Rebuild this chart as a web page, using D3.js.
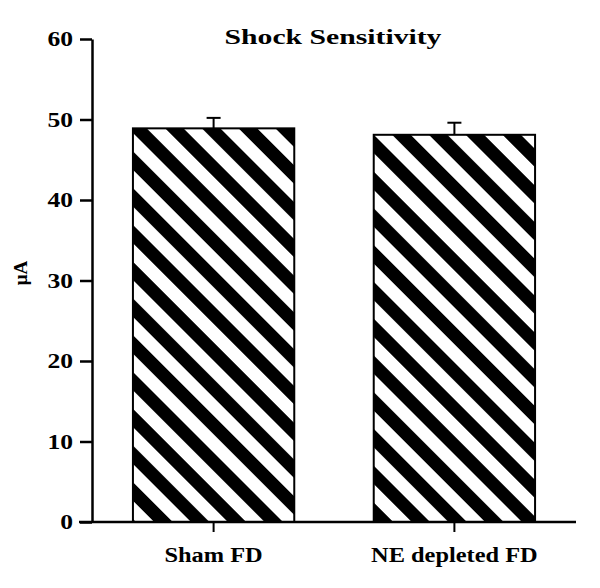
<!DOCTYPE html>
<html>
<head>
<meta charset="utf-8">
<script src="https://cdn.jsdelivr.net/npm/d3@7"></script>
<style>
  body { margin: 0; background: #fff; }
  svg text { font-family: "Liberation Serif", "Times New Roman", serif; font-weight: bold; fill: #000; }
</style>
</head>
<body>
<div id="chart"></div>
<script>
var categories = ["Sham FD", "NE depleted FD"];
var means = [48.9, 48.1];
var errors = [1.3, 1.5];
var yTicks = [0, 10, 20, 30, 40, 50, 60];

var width = 600, height = 588,
    axisLeft = 92, axisRight = 576, axisBottom = 522, axisTop = 39,
    stretch = 1.22;   // the original type is set wide

var svg = d3.select("#chart")
    .append("svg")
    .attr("width", width)
    .attr("height", height);

// diagonal hatch, black / white
var pattern = svg.append("defs")
    .append("pattern")
    .attr("id", "hatch")
    .attr("patternUnits", "userSpaceOnUse")
    .attr("width", 26)
    .attr("height", 26)
    .attr("patternTransform", "rotate(-45)");
pattern.append("rect")
    .attr("width", 26).attr("height", 26)
    .attr("fill", "#fff");
pattern.append("rect")
    .attr("width", 13).attr("height", 26)
    .attr("fill", "#000");

var x = d3.scaleBand()
    .domain(categories)
    .range([axisLeft, axisRight])
    .paddingInner(0.33)
    .paddingOuter(0.17);

var y = d3.scaleLinear()
    .domain([0, 60])
    .range([axisBottom, axisTop]);

// error bars (upper only)
var errG = svg.append("g");
categories.forEach(function(c, i) {
    var cx = x(c) + x.bandwidth() / 2;
    errG.append("line")
        .attr("x1", cx).attr("x2", cx)
        .attr("y1", y(means[i])).attr("y2", y(means[i] + errors[i]))
        .attr("stroke", "#000").attr("stroke-width", 2);
    errG.append("line")
        .attr("x1", cx - 7).attr("x2", cx + 7)
        .attr("y1", y(means[i] + errors[i])).attr("y2", y(means[i] + errors[i]))
        .attr("stroke", "#000").attr("stroke-width", 2);
});

svg.selectAll(".bar")
    .data(categories)
    .enter()
    .append("rect")
    .attr("class", "bar")
    .attr("x", function(d) { return x(d); })
    .attr("y", function(d, i) { return y(means[i]); })
    .attr("width", x.bandwidth())
    .attr("height", function(d, i) { return y(0) - y(means[i]); })
    .attr("fill", "url(#hatch)")
    .attr("stroke", "#000")
    .attr("stroke-width", 2);

// y axis
var yAxis = svg.append("g")
    .attr("transform", "translate(" + axisLeft + ",0)")
    .call(d3.axisLeft(y).tickValues(yTicks).tickSize(12).tickPadding(7).tickSizeOuter(0));
yAxis.select(".domain").attr("stroke-width", 2.5);
yAxis.selectAll(".tick line").attr("stroke-width", 2.5);
yAxis.selectAll(".tick text")
    .style("font-size", "21px")
    .attr("x", -19 / stretch)
    .attr("transform", "scale(" + stretch + ",1)");

// x axis
var xAxis = svg.append("g")
    .attr("transform", "translate(0," + axisBottom + ")")
    .call(d3.axisBottom(x).tickSize(10).tickPadding(16));
xAxis.select(".domain").remove();
xAxis.selectAll(".tick line").attr("stroke-width", 2);
xAxis.selectAll(".tick text")
    .style("font-size", "20px")
    .attr("transform", "scale(" + stretch + ",1)");
svg.append("line")
    .attr("x1", 79).attr("x2", axisRight)
    .attr("y1", axisBottom).attr("y2", axisBottom)
    .attr("stroke", "#000").attr("stroke-width", 2.5);

// title
svg.append("text")
    .attr("transform", "translate(333,44) scale(1.35,1)")
    .attr("text-anchor", "middle")
    .style("font-size", "22px")
    .text("Shock Sensitivity");

// y label
svg.append("text")
    .attr("transform", "translate(27,273) rotate(-90)")
    .attr("text-anchor", "middle")
    .style("font-size", "19px")
    .text("μA");
</script>
</body>
</html>
